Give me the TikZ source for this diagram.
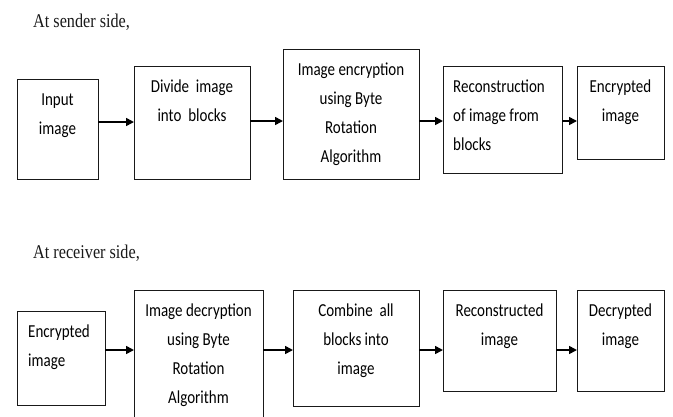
\documentclass[tikz,border=0pt]{standalone}
\usepackage{fontspec}
\setmainfont{Liberation Serif}
\newfontfamily\boxfont{Carlito}
\usetikzlibrary{arrows.meta}
\newcommand\topstrutx{\rule{0pt}{12pt}}
\begin{document}
\begin{tikzpicture}[x=1pt,y=-1pt,
 box/.style={draw=black!90, line width=1pt, anchor=north west, inner sep=0, outer sep=0},
 lbl/.style={font=\boxfont\fontsize{15}{23.8}\selectfont, inner sep=0, yscale=1.22, transform shape, text=black},
 ctr/.style={lbl, align=center, anchor=north},
 lft/.style={lbl, align=left, anchor=north west},
 ttl/.style={font=\fontsize{16.2}{20}\selectfont, inner sep=0, anchor=base west, yscale=1.2, transform shape, text=black!90},
 arr/.style={line width=1.6pt, draw=black, -{Triangle[length=8pt,width=8pt]}}]
\useasboundingbox (0,0) rectangle (673,416);
\clip (0,0) rectangle (673,416);
% titles
\node[ttl] (ts) at (33,27) {At sender side,};
\node[ttl] (tr) at (33,258) {At receiver side,};
% sender boxes
\node[box, minimum width=81pt, minimum height=100pt] (t1) at (17,79) {};
\node[box, minimum width=116pt, minimum height=113pt] (t2) at (134,66) {};
\node[box, minimum width=136pt, minimum height=130pt] (t3) at (283,49) {};
\node[box, minimum width=119pt, minimum height=107pt] (t4) at (443,66) {};
\node[box, minimum width=87pt, minimum height=93pt] (t5) at (577,66) {};
\node[ctr] (t1x) at ([yshift=-11.4pt]t1.north) {\topstrutx Input\\image};
\node[ctr] (t2x) at ([yshift=-11.4pt]t2.north) {\topstrutx Divide\ \ image\\into\ \ blocks};
\node[ctr] (t3x) at ([yshift=-11.4pt]t3.north) {\topstrutx Image encryption\\using Byte\\Rotation\\Algorithm};
\node[lft] (t4x) at ([xshift=10pt,yshift=-11.4pt]t4.north west) {\topstrutx Reconstruction\\of image from\\blocks};
\node[ctr] (t5x) at ([yshift=-11.4pt]t5.north) {\topstrutx Encrypted\\image};
% receiver boxes
\node[box, minimum width=88pt, minimum height=94pt] (r1) at (17,311) {};
\node[box, minimum width=129pt, minimum height=140pt] (r2) at (134,290) {};
\node[box, minimum width=126pt, minimum height=116pt] (r3) at (293,290) {};
\node[box, minimum width=113pt, minimum height=101pt] (r4) at (443,290) {};
\node[box, minimum width=87pt, minimum height=101pt] (r5) at (577,290) {};
\node[lft] (r1x) at ([xshift=11pt,yshift=-11.4pt]r1.north west) {\topstrutx Encrypted\\image};
\node[ctr] (r2x) at ([yshift=-11.4pt]r2.north) {\topstrutx Image decryption\\using Byte\\Rotation\\Algorithm};
\node[ctr] (r3x) at ([yshift=-11.4pt]r3.north) {\topstrutx Combine\ \ all\\blocks into\\image};
\node[ctr] (r4x) at ([yshift=-11.4pt]r4.north) {\topstrutx Reconstructed\\image};
\node[ctr] (r5x) at ([yshift=-11.4pt]r5.north) {\topstrutx Decrypted\\image};
% arrows
\draw[arr] (t1.east |- 0,122) -- (t2.west |- 0,122);
\draw[arr] (t2.east |- 0,121) -- (t3.west |- 0,121);
\draw[arr] (t3.east |- 0,121) -- (t4.west |- 0,121);
\draw[arr] (t4.east |- 0,121) -- (t5.west |- 0,121);
\draw[arr] (r1.east |- 0,350) -- (r2.west |- 0,350);
\draw[arr] (r2.east |- 0,350) -- (r3.west |- 0,350);
\draw[arr] (r3.east |- 0,350) -- (r4.west |- 0,350);
\draw[arr] (r4.east |- 0,350) -- (r5.west |- 0,350);
\end{tikzpicture}
\end{document}
